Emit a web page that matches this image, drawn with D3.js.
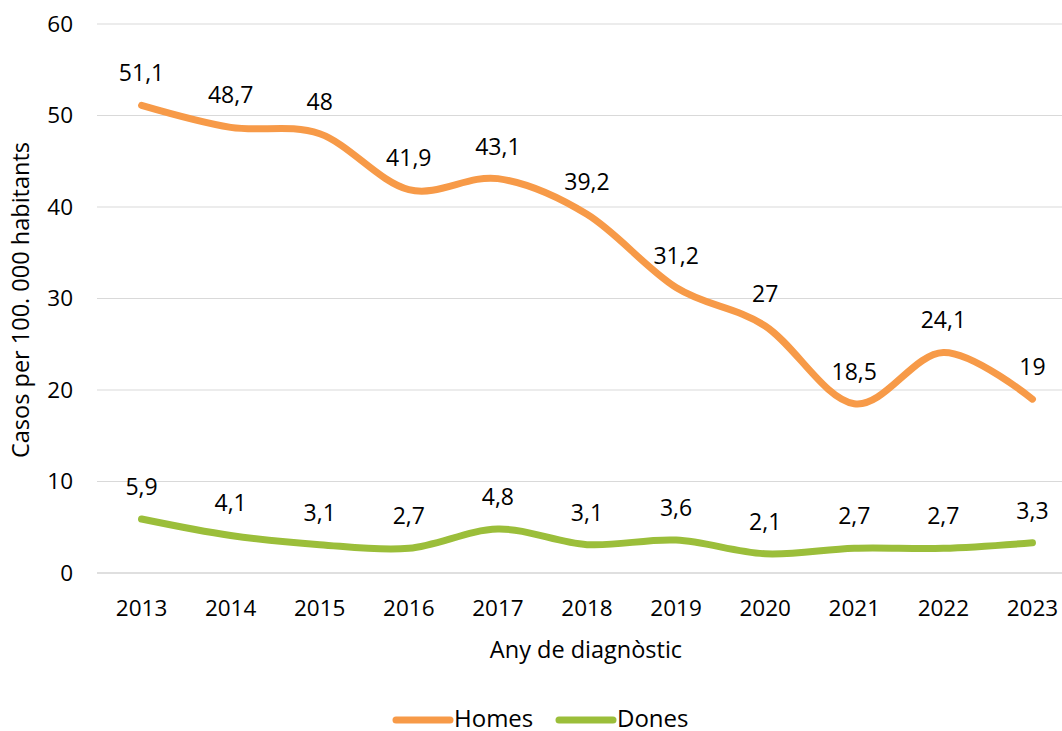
<!DOCTYPE html>
<html>
<head>
<meta charset="utf-8">
<script src="https://cdn.jsdelivr.net/npm/d3@7"></script>
<style>
  body { margin: 0; background: #fff; }
  text { font-family: "Open Sans", sans-serif; fill: #000; }
</style>
</head>
<body>
<div id="chart"></div>
<script>
// Data
const years = ["2013", "2014", "2015", "2016", "2017", "2018", "2019", "2020", "2021", "2022", "2023"];
const homes = [51.1, 48.7, 48, 41.9, 43.1, 39.2, 31.2, 27, 18.5, 24.1, 19];
const dones = [5.9, 4.1, 3.1, 2.7, 4.8, 3.1, 3.6, 2.1, 2.7, 2.7, 3.3];
const yTicks = [0, 10, 20, 30, 40, 50, 60];

const series = [
  { name: "Homes", values: homes, color: "#F79A48" },
  { name: "Dones", values: dones, color: "#9BBE3A" }
];

const width = 1062, height = 731;
const plotLeft = 97, plotRight = 1077, plotTop = 24, plotBottom = 573;

const svg = d3.select("#chart").append("svg")
    .attr("width", width)
    .attr("height", height);

// Scales
const x = d3.scaleBand()
    .domain(years)
    .range([plotLeft, plotRight]);

const y = d3.scaleLinear()
    .domain([0, 60])
    .range([plotBottom, plotTop]);

const fmt = v => String(v).replace(".", ",");

// Gridlines
svg.append("g")
  .selectAll("line")
  .data(yTicks)
  .join("line")
    .attr("x1", plotLeft)
    .attr("x2", plotRight)
    .attr("y1", d => y(d))
    .attr("y2", d => y(d))
    .attr("stroke", d => d === 0 ? "#BFBFBF" : "#D9D9D9")
    .attr("stroke-width", 1);

// Y tick labels
svg.append("g")
  .selectAll("text")
  .data(yTicks)
  .join("text")
    .attr("x", 73)
    .attr("y", d => y(d))
    .attr("dy", "0.35em")
    .attr("text-anchor", "end")
    .style("font-size", "22.5px")
    .text(d => d);

// X tick labels
svg.append("g")
  .selectAll("text")
  .data(years)
  .join("text")
    .attr("x", d => x(d) + x.bandwidth() / 2)
    .attr("y", 616)
    .attr("text-anchor", "middle")
    .style("font-size", "22.5px")
    .text(d => d);

// Axis titles
svg.append("text")
    .attr("x", 586)
    .attr("y", 658)
    .attr("text-anchor", "middle")
    .style("font-size", "23.5px")
    .text("Any de diagnòstic");

svg.append("text")
    .attr("transform", `translate(29, 300) rotate(-90)`)
    .attr("text-anchor", "middle")
    .style("font-size", "23.5px")
    .text("Casos per 100. 000 habitants");

// Lines
const line = d3.line()
    .x((d, i) => x(years[i]) + x.bandwidth() / 2)
    .y(d => y(d))
    .curve(d3.curveCatmullRom.alpha(0));

series.forEach(s => {
  svg.append("path")
      .datum(s.values)
      .attr("fill", "none")
      .attr("stroke", s.color)
      .attr("stroke-width", 7)
      .attr("stroke-linecap", "round")
      .attr("stroke-linejoin", "round")
      .attr("d", line);

  svg.append("g")
    .selectAll("text")
    .data(s.values)
    .join("text")
      .attr("x", (d, i) => x(years[i]) + x.bandwidth() / 2)
      .attr("y", d => y(d) - 24)
      .attr("text-anchor", "middle")
      .style("font-size", "23px")
      .text(fmt);
});

// Legend
const legend = svg.append("g");
const legendItems = [
  { s: series[0], x: 396 },
  { s: series[1], x: 559 }
];
legendItems.forEach(l => {
  legend.append("line")
      .attr("x1", l.x)
      .attr("x2", l.x + 54)
      .attr("y1", 720)
      .attr("y2", 720)
      .attr("stroke", l.s.color)
      .attr("stroke-width", 7)
      .attr("stroke-linecap", "round");
  legend.append("text")
      .attr("x", l.x + 58)
      .attr("y", 727)
      .style("font-size", "24px")
      .text(l.s.name);
});
</script>
</body>
</html>
